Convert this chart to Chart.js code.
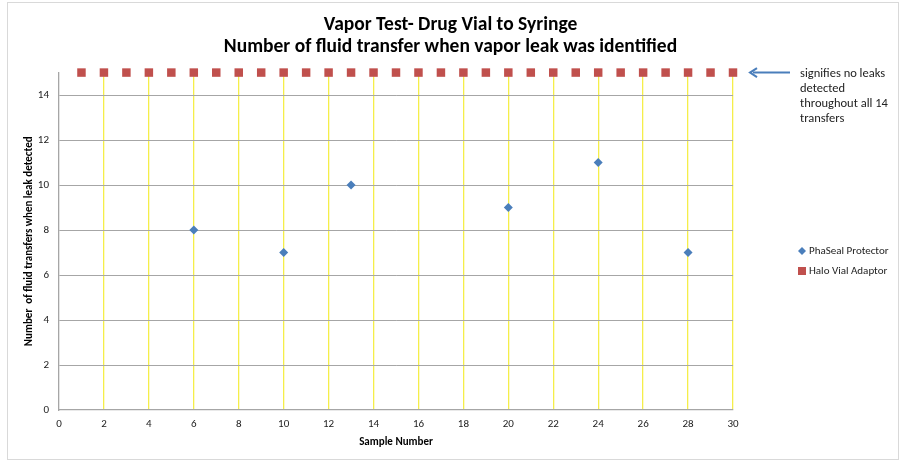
<!DOCTYPE html>
<html>
<head>
<meta charset="utf-8">
<script src="https://cdn.jsdelivr.net/npm/chart.js@4"></script>
<style>
  body { margin: 0; background: #fff; }
  #wrap { width: 901px; height: 461px; position: relative; }
</style>
</head>
<body>
<div id="wrap"><canvas id="chart" width="901" height="461"></canvas></div>
<script>
// values
var phaSealX = [6, 10, 13, 20, 24, 28];
var phaSealY = [8, 7, 10, 9, 11, 7];
var haloX = [1, 2, 3, 4, 5, 6, 7, 8, 9, 10, 11, 12, 13, 14, 15, 16, 17, 18, 19, 20, 21, 22, 23, 24, 25, 26, 27, 28, 29, 30];
var haloY = haloX.map(function () { return 15; }); // no leak in 14 transfers, drawn on top line
var seriesNames = ["PhaSeal Protector", "Halo Vial Adaptor"];
var noteLines = ["signifies no leaks", "detected", "throughout all 14", "transfers"];

var fontFam = "Carlito, Lato, 'Liberation Sans', sans-serif";
var blue = "#4A7EBB";
var red = "#C0504D";

function toPoints(xs, ys) {
  return xs.map(function (x, i) { return { x: x, y: ys[i] }; });
}

// frame, legend and arrow note
var extras = {
  id: "extras",
  beforeDraw: function (chart) {
    var c = chart.ctx;
    c.save();
    c.fillStyle = "#fff";
    c.fillRect(0, 0, chart.width, chart.height);
    c.strokeStyle = "#D9D9D9";
    c.lineWidth = 1;
    c.strokeRect(7.5, 2.5, 891, 457);
    c.restore();
  },
  afterDraw: function (chart) {
    var c = chart.ctx;
    var ys = chart.scales.y;
    var x30 = chart.scales.x.getPixelForValue(30);
    var yTop = ys.getPixelForValue(15);
    c.save();
    // arrow
    c.strokeStyle = blue;
    c.fillStyle = blue;
    c.lineWidth = 2;
    c.beginPath();
    c.moveTo(x30 + 20, yTop);
    c.lineTo(x30 + 57, yTop);
    c.stroke();
    c.beginPath();
    c.moveTo(x30 + 24, yTop - 4.5);
    c.lineTo(x30 + 17, yTop);
    c.lineTo(x30 + 24, yTop + 4.5);
    c.stroke();
    // note
    c.fillStyle = "#222";
    c.font = "12.5px " + fontFam;
    c.textBaseline = "middle";
    c.textAlign = "left";
    noteLines.forEach(function (t, i) {
      c.fillText(t, 800, yTop + 1 + i * 15);
    });
    // legend
    c.font = "11px " + fontFam;
    var ly = [251, 271];
    chart.data.datasets.forEach(function (ds, i) {
      var mx = 802, my = ly[i];
      c.fillStyle = ds.backgroundColor;
      if (ds.pointStyle === "rectRot") {
        c.beginPath();
        c.moveTo(mx, my - 4);
        c.lineTo(mx + 4, my);
        c.lineTo(mx, my + 4);
        c.lineTo(mx - 4, my);
        c.closePath();
        c.fill();
      } else {
        c.fillRect(mx - 4, my - 4, 8, 8);
      }
      c.fillStyle = "#222";
      c.fillText(ds.label, 809, my);
    });
    c.restore();
  }
};

new Chart(document.getElementById("chart"), {
  type: "scatter",
  data: {
    datasets: [{
      label: seriesNames[0],
      data: toPoints(phaSealX, phaSealY),
      pointStyle: "rectRot",
      pointRadius: 4.5,
      pointHoverRadius: 4.5,
      backgroundColor: blue,
      borderColor: blue,
      borderWidth: 0
    }, {
      label: seriesNames[1],
      data: toPoints(haloX, haloY),
      pointStyle: "rect",
      pointRadius: 6,
      pointHoverRadius: 6,
      backgroundColor: red,
      borderColor: red,
      borderWidth: 0
    }]
  },
  options: {
    responsive: false,
    animation: false,
    clip: false,
    layout: { padding: { top: 2, right: 0, bottom: 0, left: 0 } },
    plugins: {
      legend: { display: false },
      tooltip: { enabled: false },
      title: {
        display: true,
        text: ["Vapor Test- Drug Vial to Syringe", "Number of fluid transfer when vapor leak was identified"],
        color: "#000",
        font: { family: fontFam, size: 19.5, weight: "bold", lineHeight: 1.13 },
        padding: { top: 12, bottom: 14.5 }
      }
    },
    scales: {
      x: {
        type: "linear",
        min: 0,
        max: 30,
        ticks: { stepSize: 2, padding: 8, color: "#222", font: { family: fontFam, size: 11 } },
        grid: {
          drawTicks: false,
          color: function (ctx) { return ctx.tick && ctx.tick.value === 0 ? "rgba(0,0,0,0)" : "#F5EE4A"; },
          lineWidth: 1.3
        },
        border: { color: "#A6A6A6", width: 1.3 },
        title: {
          display: true,
          text: "Sample Number",
          color: "#000",
          font: { family: fontFam, size: 11, weight: "bold" },
          padding: { top: 0, bottom: 12 }
        },
        afterFit: function (axis) { axis.height = 51; }
      },
      y: {
        min: 0,
        max: 15,
        ticks: { stepSize: 2, padding: 10, color: "#222", font: { family: fontFam, size: 11 } },
        afterBuildTicks: function (axis) {
          axis.ticks = axis.ticks.filter(function (t) { return t.value <= 14; });
        },
        grid: {
          drawTicks: false,
          color: function (ctx) { return ctx.tick && ctx.tick.value === 0 ? "rgba(0,0,0,0)" : "#A6A6A6"; },
          lineWidth: 1
        },
        border: { color: "#A6A6A6", width: 1.3 },
        title: {
          display: true,
          text: "Number  of fluid transfers when leak detected",
          color: "#000",
          font: { family: fontFam, size: 11, weight: "bold" },
          padding: { top: 23, bottom: 0 }
        },
        afterFit: function (axis) { axis.width = 59; }
      },
      // empty right-hand box that keeps room for the note and legend
      side: {
        type: "linear",
        position: "right",
        display: true,
        grid: { display: false, drawTicks: false },
        border: { display: false },
        ticks: { display: false },
        afterFit: function (axis) { axis.width = 168; }
      }
    }
  },
  plugins: [extras]
});
</script>
</body>
</html>
